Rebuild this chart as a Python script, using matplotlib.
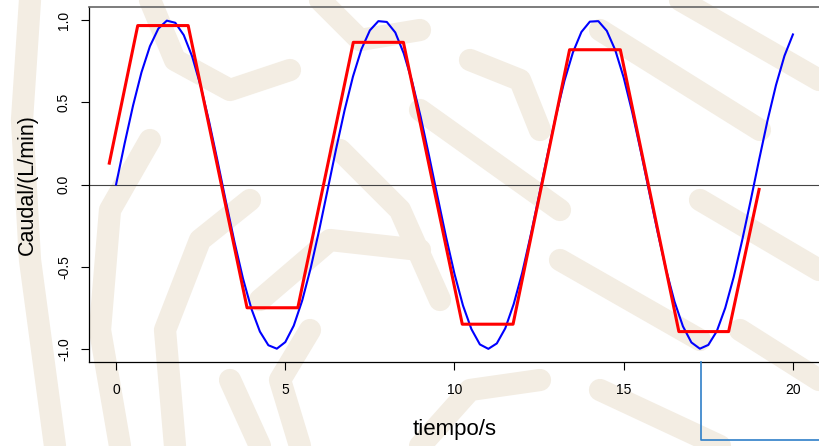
import numpy as np
import matplotlib
matplotlib.use("Agg")
import matplotlib.pyplot as plt
from matplotlib.lines import Line2D

plt.rcParams["font.family"] = ["Liberation Sans", "DejaVu Sans"]

# caudal medido (curva azul), muestreado cada 0.25 s
tiempo = np.arange(0, 20.01, 0.25)
caudal = [0.000, 0.247, 0.479, 0.682, 0.841, 0.949, 0.997, 0.984, 0.909, 0.778,
          0.598, 0.382, 0.141, -0.108, -0.351, -0.572, -0.757, -0.895, -0.978, -0.999,
          -0.959, -0.859, -0.706, -0.509, -0.279, -0.033, 0.215, 0.450, 0.657, 0.823,
          0.938, 0.994, 0.989, 0.925, 0.798, 0.624, 0.412, 0.173, -0.075, -0.319,
          -0.544, -0.736, -0.880, -0.973, -1.000, -0.967, -0.875, -0.727, -0.537, -0.310,
          -0.066, 0.183, 0.420, 0.632, 0.804, 0.928, 0.991, 0.994, 0.935, 0.818,
          0.650, 0.441, 0.206, -0.042, -0.288, -0.517, -0.712, -0.863, -0.961, -0.999,
          -0.976, -0.893, -0.751, -0.563, -0.340, -0.099, 0.150, 0.390, 0.605, 0.783,
          0.913]

# aproximación trapezoidal (curva roja)
tiempo_aprox = [-0.2, 0.64, 2.13, 3.87, 5.37, 7.01, 8.49, 10.23, 11.73, 13.40, 14.90, 16.63, 18.10, 19.00]
caudal_aprox = [0.13, 0.967, 0.967, -0.75, -0.75, 0.865, 0.865, -0.85, -0.85, 0.82, 0.82, -0.895, -0.895, -0.03]

fig = plt.figure(figsize=(8.19, 4.46), dpi=100)

# marca de agua de fondo (trazos beige aproximados, en pixeles de la figura)
trazos = [
    [(30, 0), (22, 120), (30, 260), (55, 446)],
    [(120, 446), (100, 330), (110, 210), (150, 140)],
    [(175, 446), (165, 330), (200, 240), (250, 200)],
    [(150, 0), (175, 60), (230, 90), (290, 70)],
    [(320, 0), (360, 40), (420, 30)],
    [(420, 110), (560, 210)],
    [(470, 60), (520, 80), (540, 130)],
    [(600, 30), (760, 130)],
    [(680, 0), (819, 80)],
    [(560, 260), (700, 340)],
    [(700, 200), (819, 270)],
    [(600, 390), (720, 446)],
    [(740, 330), (819, 380)],
    [(260, 300), (330, 240), (420, 250)],
    [(300, 446), (280, 380), (310, 330)],
    [(420, 446), (470, 390), (540, 380)],
    [(340, 150), (400, 210), (440, 300)],
    [(230, 380), (260, 446)],
]
for tr in trazos:
    xs = [p[0] / 819 for p in tr]
    ys = [1 - p[1] / 446 for p in tr]
    fig.add_artist(Line2D(xs, ys, transform=fig.transFigure, color="#f3ede3",
                          lw=16, solid_capstyle="round", solid_joinstyle="round", zorder=0))

ax = fig.add_axes([89 / 819, 1 - 362 / 446, 731 / 819, 355 / 446])
ax.patch.set_alpha(0)

ax.plot(tiempo, caudal, color="#0000ff", lw=1.5, zorder=3)
ax.plot(tiempo_aprox, caudal_aprox, color="#ff0000", lw=2.2, zorder=4)
ax.axhline(0, color="#444444", lw=0.8, zorder=2)

ax.set_xlim(-0.8, 20.8)
ax.set_ylim(-1.08, 1.08)
ax.set_xticks([0, 5, 10, 15, 20])
ax.set_yticks([-1.0, -0.5, 0.0, 0.5, 1.0])
ax.set_yticklabels(["-1.0", "-0.5", "0.0", "0.5", "1.0"], rotation=90, va="center")
ax.tick_params(direction="out", length=6, width=0.8, labelsize=10, colors="black")
ax.tick_params(axis="x", pad=9)
ax.tick_params(axis="y", pad=7)

for s in ["left", "bottom"]:
    ax.spines[s].set_color("black")
    ax.spines[s].set_linewidth(0.9)
ax.spines["top"].set_color("#666666")
ax.spines["top"].set_linewidth(1.2)
ax.spines["right"].set_visible(False)

ax.set_xlabel("tiempo/s", fontsize=16, labelpad=16)
ax.set_ylabel("Caudal/(L/min)", fontsize=15.5, labelpad=14)

# recuadro azul abajo a la derecha
fig.add_artist(Line2D([701 / 819, 701 / 819, 1.0], [1 - 362 / 446, 1 - 440 / 446, 1 - 440 / 446],
                      transform=fig.transFigure, color="#2f7fc8", lw=1.2, zorder=5))

fig.savefig("out.png", dpi=100)
